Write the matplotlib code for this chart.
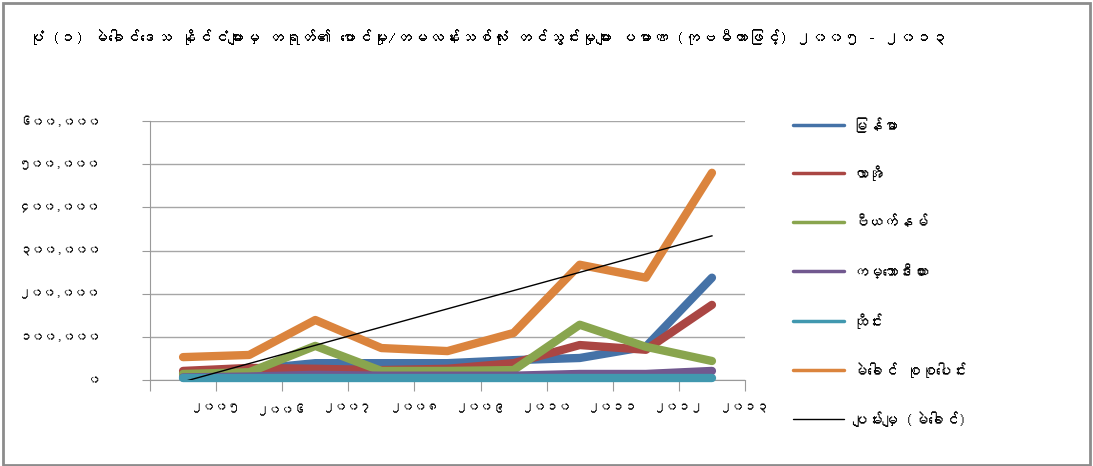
import numpy as np
import matplotlib
matplotlib.use('Agg')
import matplotlib.pyplot as plt
from matplotlib import font_manager
from matplotlib.ft2font import FT2Font
from matplotlib.lines import Line2D
from matplotlib.patches import Rectangle

# data (cubic metres)
years = ['၂၀၀၅', '၂၀၀၆', '၂၀၀၇', '၂၀၀၈', '၂၀၀၉', '၂၀၁၀', '၂၀၁၁', '၂၀၁၂', '၂၀၁၃']
myanmar = [15000, 24000, 39000, 39000, 39000, 46000, 51000, 77000, 237000]
laos = [21000, 28000, 26000, 23000, 26000, 39000, 81000, 70000, 174000]
vietnam = [14000, 18000, 79000, 21000, 21000, 23000, 128000, 77000, 44000]
cambodia = [6000, 8000, 12000, 10000, 10000, 10000, 14000, 14000, 21000]
thailand = [5000, 5000, 5000, 5000, 5000, 5000, 5000, 5000, 5000]
mekong = [53000, 58000, 139000, 74000, 67000, 109000, 267000, 237000, 480000]

series_names = ['မြန်မာ', 'လာအို', 'ဗီယက်နမ်', 'ကမ္ဘောဒီးယား', 'ထိုင်း', 'မဲခေါင် စုစုပေါင်း']
trend_name = 'ပျမ်းမျှ (မဲခေါင်)'
colors = ['#4572A7', '#AA4643', '#89A54E', '#71588F', '#4198AF', '#DB843D']

yticks = [0, 100000, 200000, 300000, 400000, 500000, 600000]
ytick_labels = ['၀', '၁၀၀,၀၀၀', '၂၀၀,၀၀၀', '၃၀၀,၀၀၀', '၄၀၀,၀၀၀', '၅၀၀,၀၀၀', '၆၀၀,၀၀၀']

title = ('ပုံ (၁) မဲခေါင်ဒေသ နိုင်ငံများမှ တရုတ်၏ ပောင်မှုး/တမလန်းသစ်လုံး '
         'တင်သွင်းမှုများ ပမာဏ (ကုဗမီတာဖြင့်) ၂၀၀၅ - ၂၀၁၃')


def find_myanmar_font():
    for f in font_manager.fontManager.ttflist:
        try:
            if 0x1000 in FT2Font(f.fname).get_charmap():
                return f.name
        except Exception:
            pass
    return None

mm = find_myanmar_font()
plt.rcParams['font.family'] = [mm, 'DejaVu Sans'] if mm else ['DejaVu Sans']

W, H = 1093, 466
fg = plt.figure(figsize=(W / 100, H / 100), dpi=100)
ax = fg.add_axes([150 / W, 1 - 380 / H, (745 - 150) / W, (380 - 121) / H])

x = np.arange(len(years))
allseries = [myanmar, laos, vietnam, cambodia, thailand, mekong]
for vals, c in zip(allseries, colors):
    ax.plot(x, vals, color=c, lw=6, solid_capstyle='round', solid_joinstyle='round',
            zorder=3, clip_on=False)

# linear trend of the mekong total, like the excel trendline
k, b = np.polyfit(x, mekong, 1)
ax.plot(x, k * x + b, color='black', lw=1, zorder=4)

ax.set_xlim(-0.5, len(years) - 0.5)
ax.set_ylim(0, 600000)
ax.set_yticks(yticks)
ax.set_yticklabels(ytick_labels, fontsize=9)
ax.set_xticks(np.arange(-0.5, len(years), 1.0))
ax.set_xticklabels([''] + years, fontsize=9)
ax.tick_params(axis='y', length=6, color='#9a9a9a', pad=30)
ax.tick_params(axis='x', length=8, color='#9a9a9a', pad=9)
ax.grid(axis='y', color='#a6a6a6', lw=1)
ax.set_axisbelow(True)
for s in ('top', 'right'):
    ax.spines[s].set_visible(False)
for s in ('left', 'bottom'):
    ax.spines[s].set_color('#9a9a9a')

fg.text(28 / W, 1 - 37 / H, title, fontsize=11.5, ha='left', va='center')

# legend on the right
leg_y = [125, 173, 222, 271, 321, 370, 419]
for i, yy in enumerate(leg_y):
    yf = 1 - yy / H
    if i < len(series_names):
        c, lw, name = colors[i], 2.5, series_names[i]
    else:
        c, lw, name = 'black', 1, trend_name
    fg.add_artist(Line2D([793 / W, 844 / W], [yf, yf], color=c, lw=lw,
                         solid_capstyle='round', transform=fg.transFigure))
    fg.text(852 / W, yf, name, fontsize=11, ha='left', va='center')

fg.add_artist(Rectangle((0.003, 0.003), 0.994, 0.99, fill=False, edgecolor='#8c8c8c',
                        lw=2, transform=fg.transFigure))

fg.savefig('out.png', dpi=100)
